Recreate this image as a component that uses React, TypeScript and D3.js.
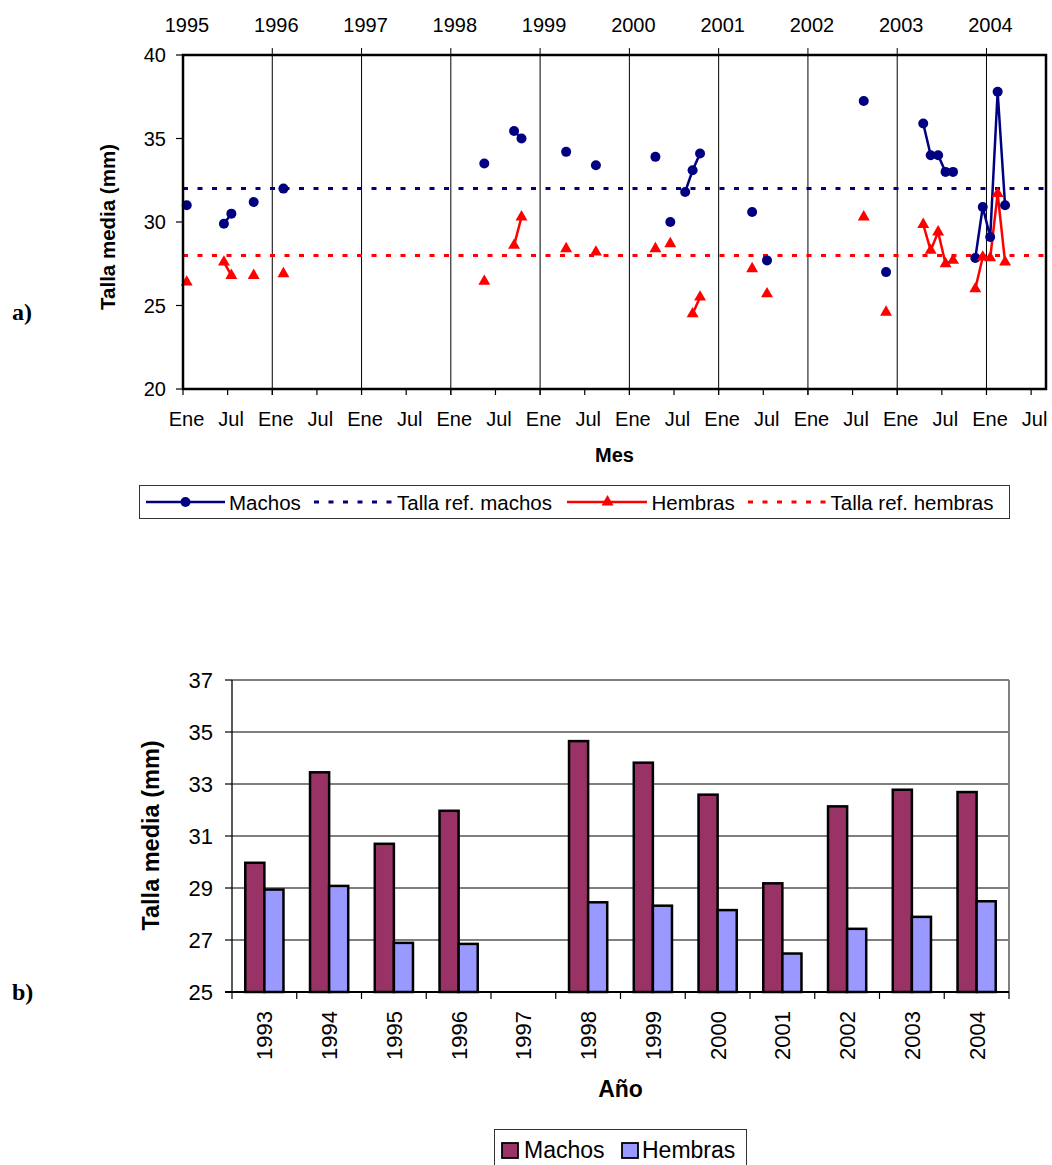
import React from 'react';
import * as d3 from 'd3';

// a) talla media mensual (mes = meses desde enero 1995)
const mesLabels = ['Ene', 'Jul'];
const aniosTop = ['1995', '1996', '1997', '1998', '1999', '2000', '2001', '2002', '2003', '2004'];
const machosMes = [0, 5, 6, 9, 13, 40, 44, 45, 51, 55, 63, 65, 67, 68, 69, 76, 78, 91, 94, 99, 100, 101, 102, 103, 106, 107, 108, 109, 110];
const machosTalla = [31.0, 29.9, 30.5, 31.2, 32.0, 33.5, 35.45, 35.0, 34.2, 33.4, 33.9, 30.0, 31.8, 33.1, 34.1, 30.6, 27.7, 37.25, 27.0, 35.9, 34.0, 34.0, 33.0, 33.0, 27.85, 30.9, 29.1, 37.8, 31.0];
const hembrasMes = [0, 5, 6, 9, 13, 40, 44, 45, 51, 55, 63, 65, 68, 69, 76, 78, 91, 94, 99, 100, 101, 102, 103, 106, 107, 108, 109, 110];
const hembrasTalla = [26.4, 27.6, 26.8, 26.8, 26.9, 26.45, 28.6, 30.3, 28.4, 28.2, 28.4, 28.7, 24.5, 25.5, 27.2, 25.7, 30.3, 24.6, 29.85, 28.3, 29.4, 27.5, 27.7, 26.0, 27.9, 27.85, 31.7, 27.6];
const tallaRefMachos = 32;
const tallaRefHembras = 28;

// b) talla media anual
const aniosBarras = ['1993', '1994', '1995', '1996', '1997', '1998', '1999', '2000', '2001', '2002', '2003', '2004'];
const barrasMachos = [29.97, 33.45, 30.7, 31.97, null, 34.65, 33.82, 32.59, 29.18, 32.14, 32.78, 32.69];
const barrasHembras = [28.94, 29.08, 26.89, 26.85, null, 28.45, 28.32, 28.15, 26.48, 27.43, 27.89, 28.49];

const FONT = '"Liberation Sans", Arial, Helvetica, sans-serif';
const NAVY = '#000080';
const RED = '#FF0000';
const C_MACHOS = '#993366';
const C_HEMBRAS = '#9999FF';

type Pt = { m: number; v: number | null };

const mensual = (meses: number[], vals: number[]): Pt[] =>
  d3.range(0, 116).map((m) => {
    const i = meses.indexOf(m);
    return { m, v: i >= 0 ? vals[i] : null };
  });

const TopChart: React.FC = () => {
  const left = 183, right = 1046, top = 55, bottom = 389;
  const x = d3.scaleLinear().domain([0, 116]).range([left, right]);
  const y = d3.scaleLinear().domain([20, 40]).range([bottom, top]);
  const line = d3
    .line<Pt>()
    .defined((d) => d.v != null)
    .x((d) => x(d.m + 0.5))
    .y((d) => y(d.v as number));
  const tri = d3.symbol(d3.symbolTriangle, 62)() || '';
  const monthTicks = d3.range(0, 115, 6);
  const yearTicks = d3.range(0, 109, 12);
  const dash = '5,9.5';

  return (
    <g fontFamily={FONT}>
      {/* year labels on top */}
      {aniosTop.map((a, i) => (
        <text key={a} x={x(yearTicks[i]) + 4} y={31.5} fontSize={20} textAnchor="middle">
          {a}
        </text>
      ))}
      {/* vertical year lines */}
      {yearTicks.slice(1).map((m) => (
        <line key={m} x1={x(m)} x2={x(m)} y1={48} y2={bottom + 6} stroke="#000" strokeWidth={1} />
      ))}
      {/* bottom ticks */}
      {monthTicks.map((m) => (
        <line key={m} x1={x(m)} x2={x(m)} y1={bottom} y2={bottom + 6} stroke="#000" strokeWidth={1.2} />
      ))}
      {monthTicks.map((m, i) => (
        <text key={'l' + m} x={x(m) + 3.5} y={426} fontSize={20} textAnchor="middle">
          {mesLabels[i % 2]}
        </text>
      ))}
      {/* y ticks */}
      {y.ticks(4).map((t) => (
        <g key={t}>
          <line x1={left - 7} x2={left} y1={y(t)} y2={y(t)} stroke="#000" strokeWidth={1.2} />
          <text x={166} y={y(t) + 7} fontSize={20} textAnchor="end">
            {t}
          </text>
        </g>
      ))}
      {/* reference lines */}
      <line x1={left} x2={right} y1={y(tallaRefMachos)} y2={y(tallaRefMachos)} stroke={NAVY} strokeWidth={3} strokeDasharray={dash} />
      <line x1={left} x2={right} y1={y(tallaRefHembras)} y2={y(tallaRefHembras)} stroke={RED} strokeWidth={3} strokeDasharray={dash} />
      {/* series */}
      <path d={line(mensual(machosMes, machosTalla)) || ''} fill="none" stroke={NAVY} strokeWidth={2.5} />
      <path d={line(mensual(hembrasMes, hembrasTalla)) || ''} fill="none" stroke={RED} strokeWidth={2.5} />
      {machosMes.map((m, i) => (
        <circle key={'c' + m} cx={x(m + 0.5)} cy={y(machosTalla[i])} r={5} fill={NAVY} />
      ))}
      {hembrasMes.map((m, i) => (
        <path key={'t' + m} d={tri} transform={`translate(${x(m + 0.5)},${y(hembrasTalla[i])})`} fill={RED} />
      ))}
      {/* frame */}
      <rect x={left} y={top} width={right - left} height={bottom - top} fill="none" stroke="#000" strokeWidth={2.5} />
      {/* titles */}
      <text transform={`translate(115,227) rotate(-90)`} fontSize={20.5} fontWeight="bold" textAnchor="middle">
        Talla media (mm)
      </text>
      <text x={(left + right) / 2} y={462} fontSize={20} fontWeight="bold" textAnchor="middle">
        Mes
      </text>
      {/* legend */}
      <rect x={139.5} y={485.5} width={870} height={33} fill="#fff" stroke="#333" strokeWidth={1} />
      <line x1={146} x2={225} y1={502} y2={502} stroke={NAVY} strokeWidth={2.5} />
      <circle cx={185.5} cy={502} r={5} fill={NAVY} />
      <text x={229} y={509.5} fontSize={20.5}>Machos</text>
      <line x1={314} x2={394} y1={502} y2={502} stroke={NAVY} strokeWidth={3} strokeDasharray={dash} />
      <text x={397} y={509.5} fontSize={20.5}>Talla ref. machos</text>
      <line x1={567} x2={647} y1={502} y2={502} stroke={RED} strokeWidth={2.5} />
      <path d={tri} transform="translate(607.5,502)" fill={RED} />
      <text x={651.5} y={509.5} fontSize={20.5}>Hembras</text>
      <line x1={748} x2={828} y1={502} y2={502} stroke={RED} strokeWidth={3} strokeDasharray={dash} />
      <text x={830.5} y={509.5} fontSize={20.5}>Talla ref. hembras</text>
      <text x={12} y={320} fontSize={24} fontWeight="bold" fontFamily='"Liberation Serif", "Times New Roman", serif'>
        a)
      </text>
    </g>
  );
};

const BottomChart: React.FC = () => {
  const left = 232, right = 1009, top = 680, bottom = 992;
  const x = d3.scaleBand<string>().domain(aniosBarras).range([left, right]).paddingInner(0.41).paddingOuter(0.205);
  const sub = d3.scaleBand<string>().domain(['Machos', 'Hembras']).range([0, x.bandwidth()]);
  const y = d3.scaleLinear().domain([25, 37]).range([bottom, top]);
  const step = x.step();
  const series = [
    { key: 'Machos', vals: barrasMachos, color: C_MACHOS },
    { key: 'Hembras', vals: barrasHembras, color: C_HEMBRAS },
  ];

  return (
    <g fontFamily={FONT}>
      {d3.range(27, 37, 2).map((t) => (
        <line key={t} x1={left} x2={right} y1={y(t)} y2={y(t)} stroke="#000" strokeWidth={1} />
      ))}
      <line x1={left} x2={right} y1={top} y2={top} stroke="#808080" strokeWidth={2} />
      <line x1={right} x2={right} y1={top} y2={bottom} stroke="#808080" strokeWidth={2} />
      {series.map((s) =>
        s.vals.map((v, i) =>
          v == null ? null : (
            <rect
              key={s.key + i}
              x={(x(aniosBarras[i]) || 0) + (sub(s.key) || 0)}
              y={y(v)}
              width={sub.bandwidth()}
              height={bottom - y(v)}
              fill={s.color}
              stroke="#000"
              strokeWidth={2.5}
            />
          )
        )
      )}
      <line x1={left} x2={left} y1={top} y2={bottom} stroke="#000" strokeWidth={1.3} />
      <line x1={left - 7} x2={right} y1={bottom} y2={bottom} stroke="#000" strokeWidth={2} />
      {d3.range(25, 38, 2).map((t) => (
        <g key={t}>
          <line x1={left - 7} x2={left} y1={y(t)} y2={y(t)} stroke="#000" strokeWidth={1.2} />
          <text x={213} y={y(t) + 8} fontSize={22} textAnchor="end">
            {t}
          </text>
        </g>
      ))}
      {d3.range(0, aniosBarras.length + 1).map((i) => (
        <line key={'tk' + i} x1={left + i * step} x2={left + i * step} y1={bottom} y2={bottom + 7} stroke="#000" strokeWidth={1.2} />
      ))}
      {aniosBarras.map((a) => (
        <text
          key={a}
          transform={`translate(${(x(a) || 0) + x.bandwidth() / 2 + 8},1011) rotate(-90)`}
          fontSize={22}
          textAnchor="end"
        >
          {a}
        </text>
      ))}
      <text transform="translate(159,835.5) rotate(-90)" fontSize={23.5} fontWeight="bold" textAnchor="middle">
        Talla media (mm)
      </text>
      <text x={(left + right) / 2} y={1097} fontSize={23} fontWeight="bold" textAnchor="middle">
        Año
      </text>
      <rect x={494.5} y={1129.5} width={252} height={40} fill="#fff" stroke="#333" strokeWidth={1} />
      <rect x={502} y={1143} width={16} height={15} fill={C_MACHOS} stroke="#000" strokeWidth={1.8} />
      <text x={524} y={1158} fontSize={23}>Machos</text>
      <rect x={622} y={1143} width={16} height={15} fill={C_HEMBRAS} stroke="#000" strokeWidth={1.8} />
      <text x={642} y={1158} fontSize={23}>Hembras</text>
      <text x={12} y={1000} fontSize={24} fontWeight="bold" fontFamily='"Liberation Serif", "Times New Roman", serif'>
        b)
      </text>
    </g>
  );
};

const App: React.FC = () => (
  <div style={{ position: 'absolute', left: 0, top: 0 }}>
    <svg width={1052} height={1165} style={{ display: 'block', background: '#fff' }}>
      <TopChart />
      <BottomChart />
    </svg>
  </div>
);

export default App;
